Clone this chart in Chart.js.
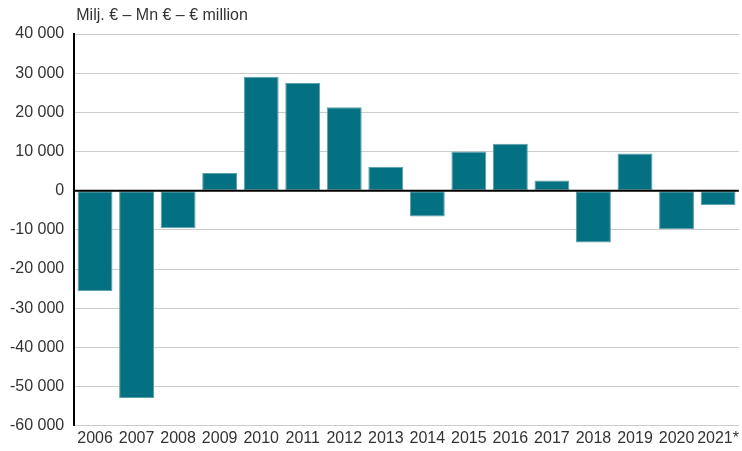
<!DOCTYPE html>
<html>
<head>
<meta charset="utf-8">
<script src="https://cdn.jsdelivr.net/npm/chart.js@4/dist/chart.umd.min.js"></script>
<style>
  html, body { margin: 0; padding: 0; background: #fff; }
  #wrap { width: 742px; height: 451px; position: relative; }
</style>
</head>
<body>
<div id="wrap"><canvas id="balanceChart"></canvas></div>
<script>
const years = ['2006', '2007', '2008', '2009', '2010', '2011', '2012', '2013',
  '2014', '2015', '2016', '2017', '2018', '2019', '2020', '2021*'];
const balance = [-25600, -52900, -9600, 4500, 29100, 27500, 21300, 6100,
  -6600, 10000, 12000, 2600, -13200, 9500, -9800, -3700];
const unitLabel = 'Milj. € – Mn € – € million';

const fontFamily = '"Liberation Sans", Arial, sans-serif';

function formatThousands(v) {
  const s = Math.abs(v).toString().replace(/\B(?=(\d{3})+(?!\d))/g, ' ');
  return (v < 0 ? '-' : '') + s;
}

// unit caption above the plot and the black zero line over the bars
const extras = {
  id: 'extras',
  afterDatasetsDraw(chart) {
    const ctx = chart.ctx;
    const area = chart.chartArea;
    const y0 = chart.scales.y.getPixelForValue(0);
    ctx.save();
    ctx.strokeStyle = '#000';
    ctx.lineWidth = 2;
    ctx.beginPath();
    ctx.moveTo(area.left, y0);
    ctx.lineTo(area.right, y0);
    ctx.stroke();

    ctx.fillStyle = '#333';
    ctx.font = '16px ' + fontFamily;
    ctx.textBaseline = 'middle';
    ctx.fillText(unitLabel, area.left + 2, 16);
    ctx.restore();
  }
};

new Chart(document.getElementById('balanceChart'), {
  type: 'bar',
  data: {
    labels: years,
    datasets: [{
      data: balance,
      backgroundColor: '#047183',
      borderColor: '#5f9fa9',
      borderWidth: 1,
      borderSkipped: false,
      categoryPercentage: 1,
      barPercentage: 0.84
    }]
  },
  options: {
    responsive: true,
    maintainAspectRatio: false,
    animation: false,
    layout: { padding: { top: 34, left: 0, right: 1, bottom: 0 } },
    plugins: {
      legend: { display: false },
      tooltip: { enabled: false }
    },
    scales: {
      x: {
        grid: { display: false, drawTicks: false },
        border: { display: false },
        ticks: {
          color: '#333',
          font: { family: fontFamily, size: 16 },
          maxRotation: 0,
          autoSkip: false,
          padding: 3
        }
      },
      y: {
        min: -60000,
        max: 40000,
        grid: {
          color: '#cccccc',
          lineWidth: 1,
          drawTicks: false
        },
        border: { display: true, color: '#000', width: 2 },
        ticks: {
          stepSize: 10000,
          color: '#333',
          padding: 10,
          font: { family: fontFamily, size: 16 },
          callback: v => formatThousands(v)
        }
      }
    }
  },
  plugins: [extras]
});
</script>
</body>
</html>
